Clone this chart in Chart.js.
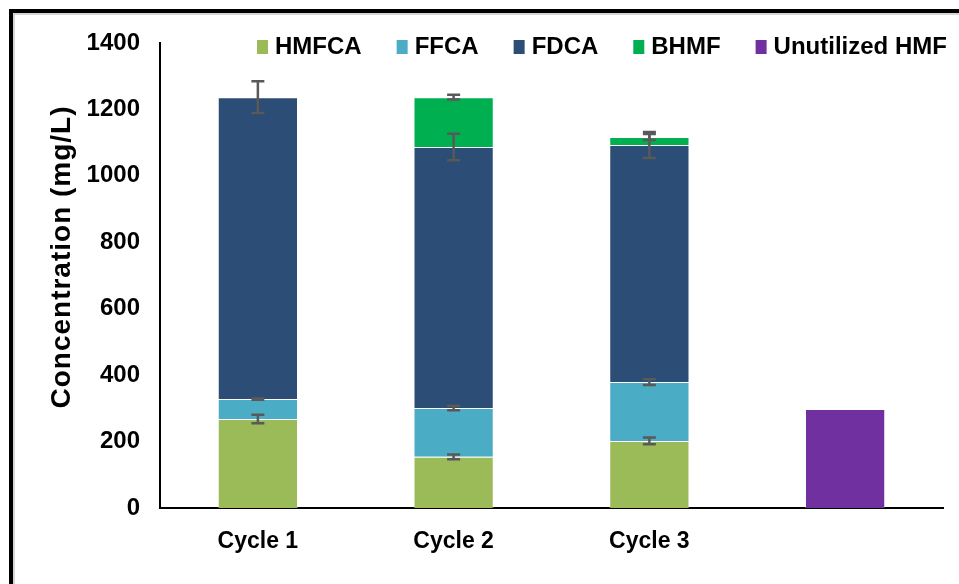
<!DOCTYPE html>
<html>
<head>
<meta charset="utf-8">
<script src="https://cdn.jsdelivr.net/npm/chart.js@4.4.1/dist/chart.umd.min.js"></script>
<style>
  html, body { margin: 0; padding: 0; background: #fff; }
  #wrap { width: 959px; height: 584px; position: relative; }
</style>
</head>
<body>
<div id="wrap"><canvas id="chart" width="959" height="584"></canvas></div>
<script>
// Categories and series (mg/L)
const categories = ['Cycle 1', 'Cycle 2', 'Cycle 3', ''];
const hmfca = [268, 154, 202, null];
const ffca = [60, 147, 177, null];
const fdca = [909, 786, 714, null];
const bhmf = [null, 150, 24, null];
const unutilizedHmf = [null, null, null, 298];

// Error bars (+/-) for each series
const hmfcaErr = [13, 7, 10, null];
const ffcaErr = [2, 7, 9, null];
const fdcaErr = [48, 40, 39, null];
const bhmfErr = [null, 7, 9, null];

const yTicks = [0, 200, 400, 600, 800, 1000, 1200, 1400];
const yTitle = 'Concentration (mg/L)';

const FONT = 'Arial, "Liberation Sans", sans-serif';

// Frame around the whole figure
const framePlugin = {
    id: 'frame',
    afterDraw(chart) {
        const ctx = chart.ctx;
        ctx.save();
        ctx.strokeStyle = '#c8c8c8';
        ctx.lineWidth = 1.5;
        ctx.beginPath();
        ctx.moveTo(14, 584);
        ctx.lineTo(14, 14);
        ctx.lineTo(959, 14);
        ctx.stroke();
        ctx.strokeStyle = '#000';
        ctx.lineWidth = 4;
        ctx.beginPath();
        ctx.moveTo(11, 584);
        ctx.lineTo(11, 11);
        ctx.lineTo(959, 11);
        ctx.stroke();
        ctx.restore();
    }
};

// Vertical axis title (drawn by hand to get the wider letter spacing)
const yTitlePlugin = {
    id: 'yTitle',
    afterDraw(chart) {
        const ctx = chart.ctx;
        ctx.save();
        ctx.translate(62, 257);
        ctx.rotate(-Math.PI / 2);
        ctx.font = 'bold 28px ' + FONT;
        if ('letterSpacing' in ctx) ctx.letterSpacing = '1px';
        ctx.fillStyle = '#000';
        ctx.textAlign = 'center';
        ctx.textBaseline = 'middle';
        ctx.fillText(yTitle, 0, 0);
        ctx.restore();
    }
};

// Error bars on top of each stacked segment
const errorBarPlugin = {
    id: 'errorBars',
    afterDatasetsDraw(chart) {
        const ctx = chart.ctx;
        const yScale = chart.scales.y;
        ctx.save();
        ctx.strokeStyle = '#595959';
        ctx.lineWidth = 2.5;
        chart.data.datasets.forEach(function(ds, i) {
            if (!ds.errors) return;
            const meta = chart.getDatasetMeta(i);
            ds.errors.forEach(function(err, j) {
                if (err == null || ds.data[j] == null) return;
                const bar = meta.data[j];
                const value = yScale.getValueForPixel(bar.y);
                const yTop = yScale.getPixelForValue(value + err);
                const yBot = yScale.getPixelForValue(value - err);
                const x = bar.x;
                ctx.beginPath();
                ctx.moveTo(x, yTop);
                ctx.lineTo(x, yBot);
                ctx.moveTo(x - 6.5, yTop);
                ctx.lineTo(x + 6.5, yTop);
                ctx.moveTo(x - 6.5, yBot);
                ctx.lineTo(x + 6.5, yBot);
                ctx.stroke();
            });
        });
        ctx.restore();
    }
};

// Legend drawn in one row at the top right
const legendPlugin = {
    id: 'topLegend',
    afterDraw(chart) {
        const ctx = chart.ctx;
        ctx.save();
        ctx.font = 'bold 24px ' + FONT;
        ctx.textBaseline = 'middle';
        ctx.textAlign = 'left';
        let x = 257;
        const y = 47;
        chart.data.datasets.forEach(function(ds) {
            ctx.fillStyle = ds.backgroundColor;
            ctx.fillRect(x, y - 7, 11, 14);
            x += 11 + 7;
            ctx.fillStyle = '#000';
            ctx.fillText(ds.label, x, y);
            x += ctx.measureText(ds.label).width + 35;
        });
        ctx.restore();
    }
};

function makeSet(label, data, color, errors) {
    return {
        label: label,
        data: data,
        errors: errors,
        backgroundColor: color,
        borderColor: 'rgba(255,255,255,0.3)',
        borderWidth: 1,
        stack: 'all',
        categoryPercentage: 1.0,
        barPercentage: 0.41
    };
}

new Chart(document.getElementById('chart').getContext('2d'), {
    type: 'bar',
    data: {
        labels: categories,
        datasets: [
            makeSet('HMFCA', hmfca, '#9BBB59', hmfcaErr),
            makeSet('FFCA', ffca, '#4BACC6', ffcaErr),
            makeSet('FDCA', fdca, '#2C4D75', fdcaErr),
            makeSet('BHMF', bhmf, '#00B050', bhmfErr),
            makeSet('Unutilized HMF', unutilizedHmf, '#7030A0', null)
        ]
    },
    options: {
        responsive: false,
        animation: false,
        layout: { padding: { top: 43, right: 16, left: 0, bottom: 0 } },
        plugins: {
            legend: { display: false },
            tooltip: { enabled: false }
        },
        scales: {
            x: {
                stacked: true,
                grid: { display: false, drawTicks: false },
                border: { color: '#000', width: 2 },
                ticks: {
                    color: '#000',
                    padding: 20,
                    font: { family: FONT, size: 23, weight: 'bold' }
                },
                afterFit(scale) { scale.height = 76; }
            },
            y: {
                stacked: true,
                min: 0,
                max: 1400,
                grid: { display: false, drawTicks: false },
                border: { color: '#000', width: 2 },
                afterBuildTicks(scale) {
                    scale.ticks = yTicks.map(function(v) { return { value: v }; });
                },
                ticks: {
                    color: '#000',
                    padding: 20,
                    font: { family: FONT, size: 24, weight: 'bold' },
                    callback: function(value) { return String(value); }
                },
                afterFit(scale) { scale.width = 160; }
            }
        }
    },
    plugins: [errorBarPlugin, legendPlugin, yTitlePlugin, framePlugin]
});
</script>
</body>
</html>
